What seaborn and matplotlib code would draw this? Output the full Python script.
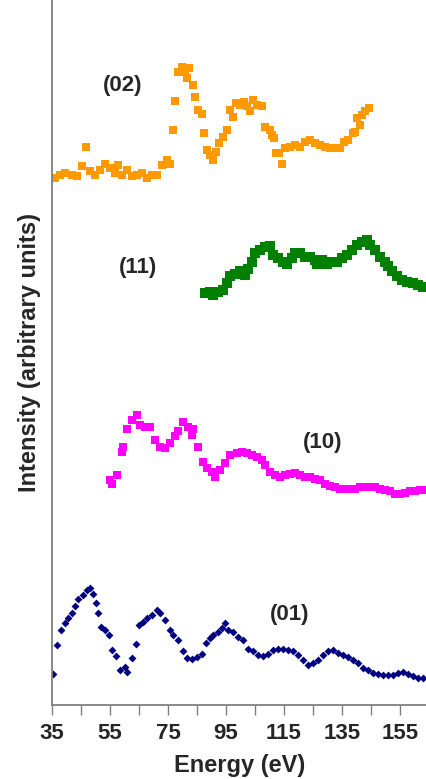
import numpy as np
import pandas as pd
import matplotlib
matplotlib.use("Agg")
import matplotlib.pyplot as plt
import seaborn as sns

# (02) curve - orange squares
e02 = [36.0, 37.8, 39.5, 41.8, 43.5, 45.2, 46.7, 48.1, 49.8, 51.5, 53.3, 55.0, 56.7, 57.9,
       59.0, 60.7, 62.5, 64.2, 65.9, 67.6, 69.4, 71.1, 72.8, 74.5, 75.7, 76.6, 77.4, 78.6,
       79.7, 80.9, 81.4, 82.4, 83.5, 84.3, 85.5, 86.6, 87.4, 88.3, 89.5, 90.4, 91.5, 92.7,
       93.8, 95.2, 96.4, 97.3, 98.4, 99.8, 101.2, 102.4, 103.3, 104.4, 105.6, 107.3, 108.4,
       110.0, 110.8, 111.6, 112.2, 113.4, 114.3, 115.3, 117.1, 118.8, 120.5, 122.2, 124.0,
       125.7, 127.4, 129.1, 130.9, 132.6, 134.3, 135.7, 137.2, 138.7, 139.5, 140.1, 141.2,
       141.8, 143.0, 144.4]
i02 = [74.7, 75.2, 75.4, 75.2, 75.0, 76.4, 79.1, 75.7, 75.2, 75.9, 76.8, 76.1, 75.4, 76.6,
       75.2, 75.9, 75.0, 75.2, 75.4, 74.7, 75.2, 75.2, 76.6, 77.3, 76.8, 81.6, 85.7, 89.8,
       90.5, 89.8, 88.9, 90.3, 88.0, 86.3, 84.4, 83.9, 81.1, 78.7, 78.0, 77.3, 78.5, 79.7,
       80.6, 81.6, 84.4, 83.4, 85.4, 85.1, 85.6, 84.9, 84.2, 85.8, 85.1, 84.9, 82.0,
       81.6, 80.9, 80.4, 78.3, 78.3, 76.8, 79.0, 79.2, 79.4, 79.2, 79.9, 80.1,
       79.7, 79.4, 79.2, 79.0, 79.0, 79.0, 79.9, 80.1, 81.1, 81.3, 83.2, 82.3,
       83.7, 84.2, 84.7]

# (11) curve - green squares
e11 = [87.8, 89.5, 90.6, 92.4, 94.1, 95.2, 96.4, 98.1, 99.8, 101.6, 102.7, 103.9, 105.0,
       106.7, 108.5, 110.2, 111.3, 113.0, 114.8, 115.9, 117.6, 118.8, 120.5, 122.2, 124.0,
       125.7, 126.3, 128.0, 129.7, 131.4, 133.2, 134.9, 136.6, 138.3, 140.1, 141.8, 143.5,
       144.7, 146.4, 148.1, 149.8, 151.0, 152.1, 153.9, 155.6, 157.3, 159.6, 161.3, 163.0]
i11 = [58.4, 58.6, 58.2, 58.6, 58.9, 59.8, 60.8, 61.2, 61.5, 61.0, 61.9, 62.9, 64.1,
       64.5, 65.0, 65.1, 63.8, 63.4, 62.9, 62.6, 63.4, 64.1, 64.1, 63.6, 63.6,
       63.1, 62.6, 63.1, 62.6, 62.9, 62.9, 63.4, 63.8, 64.5, 65.2, 65.7, 66.0,
       65.2, 64.5, 63.6, 62.9, 62.2, 61.5, 60.8, 60.3, 60.0, 59.8, 59.6, 59.3]

# (10) curve - magenta squares
e10 = [55.0, 55.6, 57.3, 59.0, 59.6, 60.7, 62.5, 64.2, 65.3, 67.1, 68.8, 70.5, 72.2, 74.0,
       75.7, 77.4, 78.6, 80.3, 82.0, 83.2, 83.7, 85.5, 87.2, 88.3, 90.1, 91.2, 92.9, 94.7,
       96.4, 98.7, 100.4, 102.1, 103.8, 105.6, 107.3, 108.4, 110.2, 111.9, 113.6, 115.3,
       117.1, 118.8, 120.5, 122.2, 124.0, 125.7, 127.4, 129.1, 130.9, 132.6, 134.3, 136.0,
       137.8, 139.5, 141.2, 143.0, 144.7, 146.4, 148.1, 149.8, 151.5, 153.3, 155.0, 156.7,
       158.4, 160.2, 161.9, 163.6]
i10 = [31.9, 31.4, 32.6, 35.9, 36.6, 39.2, 40.4, 41.1, 39.7, 39.5, 39.5, 37.6, 36.6, 36.4,
       37.1, 38.1, 38.8, 40.2, 39.5, 38.3, 39.2, 36.6, 34.5, 33.6, 33.1, 32.4, 33.3, 34.3,
       35.5, 35.7, 35.9, 35.7, 35.5, 35.2, 34.8, 34.0, 33.1, 32.6, 32.4, 32.6,
       32.8, 32.9, 32.6, 32.4, 32.4, 32.1, 31.9, 31.4, 31.1, 30.9, 30.7, 30.7,
       30.7, 30.7, 30.9, 30.9, 30.9, 30.9, 30.7, 30.5, 30.3, 30.0, 30.0, 30.1,
       30.3, 30.4, 30.5, 30.5]

# (01) curve - navy diamonds
e01 = [35.5, 36.8, 38.0, 39.5, 40.6, 41.8, 42.9, 44.1, 45.6, 46.9, 48.1, 49.0, 50.2, 51.0,
       51.8, 53.3, 54.8, 55.6, 57.1, 58.4, 60.2, 61.0, 62.5, 64.0, 65.1, 66.5, 67.9, 69.4,
       71.1, 72.2, 74.0, 75.7, 76.8, 78.6, 80.1, 81.4, 83.2, 84.9, 86.6, 88.1, 89.5, 90.6,
       92.4, 93.5, 94.7, 95.8, 97.5, 99.3, 101.0, 102.7, 104.4, 106.1, 107.9, 109.6, 111.3,
       113.0, 114.8, 116.5, 118.2, 119.9, 121.7, 123.4, 125.1, 126.8, 128.6, 130.3, 132.0,
       133.7, 135.5, 137.2, 138.9, 140.6, 142.4, 144.1, 145.8, 147.5, 149.3, 151.0, 152.7,
       154.4, 156.1, 157.9, 159.6, 161.3, 163.0]
i01 = [4.4, 8.5, 10.6, 11.6, 12.3, 13.0, 14.0, 15.1, 15.6, 16.3, 16.6, 15.8, 14.4, 13.1,
       11.1, 10.6, 9.9, 7.8, 6.9, 5.0, 5.4, 4.7, 6.6, 8.7, 11.3, 11.8, 12.3, 12.8,
       13.5, 13.0, 12.1, 10.6, 9.9, 9.2, 7.6, 6.6, 6.5, 6.8, 7.3, 8.8, 9.5, 9.9,
       10.4, 10.9, 11.6, 10.6, 10.4, 9.7, 9.2, 8.0, 7.6, 7.1, 6.9, 7.3, 7.8,
       8.0, 7.9, 7.8, 7.6, 7.1, 6.4, 5.7, 5.9, 6.4, 7.1, 7.6, 7.8,
       7.4, 7.1, 6.8, 6.4, 5.9, 5.3, 5.0, 4.6, 4.4, 4.3, 4.3, 4.3,
       4.5, 4.7, 4.4, 4.1, 3.9, 3.8]

labels = ["(02)", "(11)", "(10)", "(01)"]
label_x = [59.5, 64.7, 128.4, 117.1]
label_y = [87.9, 62.0, 37.3, 12.8]

sns.set_style("white")
plt.rcParams['font.family'] = ['Liberation Sans', 'DejaVu Sans']

fig = plt.figure(figsize=(4.27, 7.79), dpi=100)
ax = fig.add_axes([52 / 427, 74 / 779, 1 - 52 / 427, 705 / 779])

series = [
    (e02, i02, "#FF9900", "s", 36),
    (e11, i11, "#008000", "s", 49),
    (e10, i10, "#FF00FF", "s", 36),
    (e01, i01, "#000080", "D", 16),
]
for e, i, col, mk, sz in series:
    df = pd.DataFrame({"Energy": e, "Intensity": i})
    sns.scatterplot(data=df, x="Energy", y="Intensity", ax=ax, color=col,
                    marker=mk, s=sz, linewidth=0, clip_on=True)

for lab, lx, ly in zip(labels, label_x, label_y):
    ax.text(lx, ly, lab, fontsize=16, fontweight="bold", ha="center", va="center")

ax.set_xlim(35, 164.3)
ax.set_ylim(0, 100)
ax.set_xticks(np.arange(35, 165, 20))
ax.set_xticks(np.arange(45, 165, 20), minor=True)
ax.set_yticks([])
ax.tick_params(axis="x", which="both", direction="out", length=7, width=1,
               color="#808080", bottom=True, labelsize=16, pad=6)
for t in ax.get_xticklabels():
    t.set_fontweight("bold")

ax.spines["top"].set_visible(False)
ax.spines["right"].set_visible(False)
for s in ["left", "bottom"]:
    ax.spines[s].set_color("#808080")
    ax.spines[s].set_linewidth(1.3)

ax.set_xlabel("Energy (eV)", fontsize=17, fontweight="bold", labelpad=7)
ax.set_ylabel("Intensity (arbitrary units)", fontsize=17, fontweight="bold", labelpad=8)

fig.savefig("out.png", dpi=100)
